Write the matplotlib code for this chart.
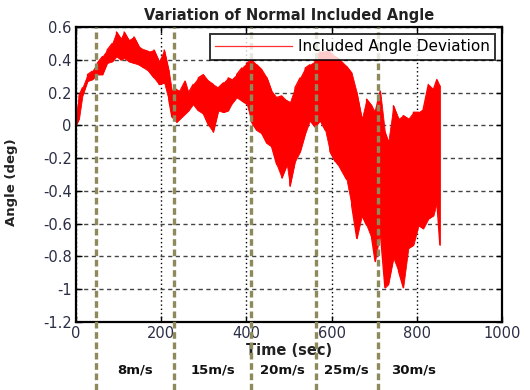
import numpy as np
import matplotlib
matplotlib.use("Agg")
import matplotlib.pyplot as plt

# envelope of the angle deviation signal (sec, deg)
t = [0, 7, 15, 27, 38, 50, 62, 73, 85, 95,
     105, 113, 124, 136, 148, 160, 171, 183, 195, 207,
     218, 225, 236, 244, 256, 264, 275, 287, 299, 311,
     322, 334, 346, 357, 365, 377, 389, 401, 412, 424,
     436, 448, 459, 471, 483, 495, 502, 514, 526, 538,
     549, 561, 573, 585, 596, 608, 620, 635, 647, 659,
     671, 682, 694, 702, 714, 725, 733, 745, 757, 768,
     780, 792, 804, 815, 827, 839, 847, 854]
hi = [0.07, 0.18, 0.23, 0.31, 0.33, 0.38, 0.42, 0.46, 0.50, 0.57,
      0.53, 0.57, 0.52, 0.54, 0.48, 0.46, 0.45, 0.46, 0.39, 0.46,
      0.33, 0.21, 0.22, 0.21, 0.27, 0.20, 0.25, 0.29, 0.31, 0.27,
      0.25, 0.23, 0.26, 0.29, 0.28, 0.31, 0.35, 0.38, 0.40, 0.37,
      0.34, 0.29, 0.21, 0.17, 0.18, 0.15, 0.14, 0.23, 0.29, 0.35,
      0.37, 0.39, 0.45, 0.45, 0.45, 0.42, 0.40, 0.36, 0.32, 0.20,
      0.04, 0.16, 0.12, 0.08, 0.21, -0.04, -0.10, 0.12, 0.04, 0.06,
      0.04, 0.08, 0.08, 0.10, 0.25, 0.22, 0.28, 0.24]
lo = [0.0, 0.04, 0.18, 0.27, 0.28, 0.31, 0.31, 0.38, 0.39, 0.42,
      0.40, 0.41, 0.39, 0.38, 0.37, 0.35, 0.33, 0.29, 0.25, 0.26,
      0.15, 0.05, 0.02, 0.04, 0.07, 0.09, 0.13, 0.09, 0.07, 0.0,
      -0.04, 0.09, 0.08, 0.09, 0.13, 0.17, 0.15, 0.13, 0.02, -0.03,
      -0.05, -0.11, -0.13, -0.24, -0.32, -0.24, -0.37, -0.22, -0.16, -0.05,
      0.03, -0.01, 0.03, -0.03, -0.16, -0.22, -0.26, -0.33, -0.49, -0.69,
      -0.55, -0.61, -0.69, -0.83, -0.65, -0.99, -0.97, -0.81, -0.89, -0.99,
      -0.75, -0.73, -0.61, -0.63, -0.57, -0.55, -0.47, -0.73]

# wind speed stages
stage_lines = [47, 230, 411, 563, 708]
stage_pos = [138, 322, 485, 635, 793]
stage_labels = ["8m/s", "15m/s", "20m/s", "25m/s", "30m/s"]

xticks = [0, 200, 400, 600, 800, 1000]
yticks = [0.6, 0.4, 0.2, 0, -0.2, -0.4, -0.6, -0.8, -1, -1.2]

fig = plt.figure(figsize=(5.3, 3.9), dpi=100)
ax = fig.add_axes([0.1434, 0.1744, 0.8038, 0.7564])

# zigzag between upper and lower envelope to get the noisy look
zt, zy = [], []
for i in range(len(t)):
    zt += [t[i], t[i]]
    zy += [lo[i], hi[i]] if i % 2 else [hi[i], lo[i]]
ax.fill_between(t, lo, hi, color="red", lw=0.6)
ax.plot(zt, zy, color="red", lw=0.9, label="Included Angle Deviation")

ax.set_xlim(0, 1000)
ax.set_ylim(-1.2, 0.6)
ax.set_xticks(xticks)
ax.set_yticks(yticks)
ax.set_yticklabels([("%g" % v) for v in yticks])
ax.tick_params(direction="in", top=True, right=True, length=4, width=1,
               labelsize=10.5, labelcolor="#2a2f45", pad=3)
for s in ax.spines.values():
    s.set_linewidth(1.6)

ax.xaxis.grid(True, linestyle=(0, (1, 2)), color="black", lw=1)
ax.yaxis.grid(True, linestyle=(0, (3, 2.5)), color="#444444", lw=1)
ax.set_axisbelow(True)

ax.set_title("Variation of Normal Included Angle", fontsize=10.5,
             fontweight="bold", color="#222222", pad=5)
ax.set_xlabel("Time (sec)", fontsize=10.5, fontweight="bold", color="#222222", labelpad=1)
ax.set_ylabel("Angle (deg)", fontsize=9.5, fontweight="bold", color="#222222")
ax.yaxis.set_label_coords(-0.135, 0.475)

leg = ax.legend(loc="upper right", fontsize=11, frameon=True, fancybox=False,
                borderpad=0.35, handlelength=5.0, handletextpad=0.4,
                borderaxespad=0.45)
leg.get_frame().set_edgecolor("black")
leg.get_frame().set_linewidth(1.4)
leg.legend_handles[0].set_color("#ff3030")

# stage boundaries run from the top of the axes down to the figure edge
ymin_ax = -0.1744 / 0.7564
for x in stage_lines:
    ax.axvline(x, ymin=ymin_ax, ymax=1, color="#8f8a5c", lw=2.4,
               linestyle=(0, (2.0, 1.1)), clip_on=False, zorder=5)
for x, lab in zip(stage_pos, stage_labels):
    ax.text(x, -1.49, lab, ha="center", va="center", fontsize=9.5,
            fontweight="bold", color="#111111")

fig.savefig("out.png", dpi=100)
